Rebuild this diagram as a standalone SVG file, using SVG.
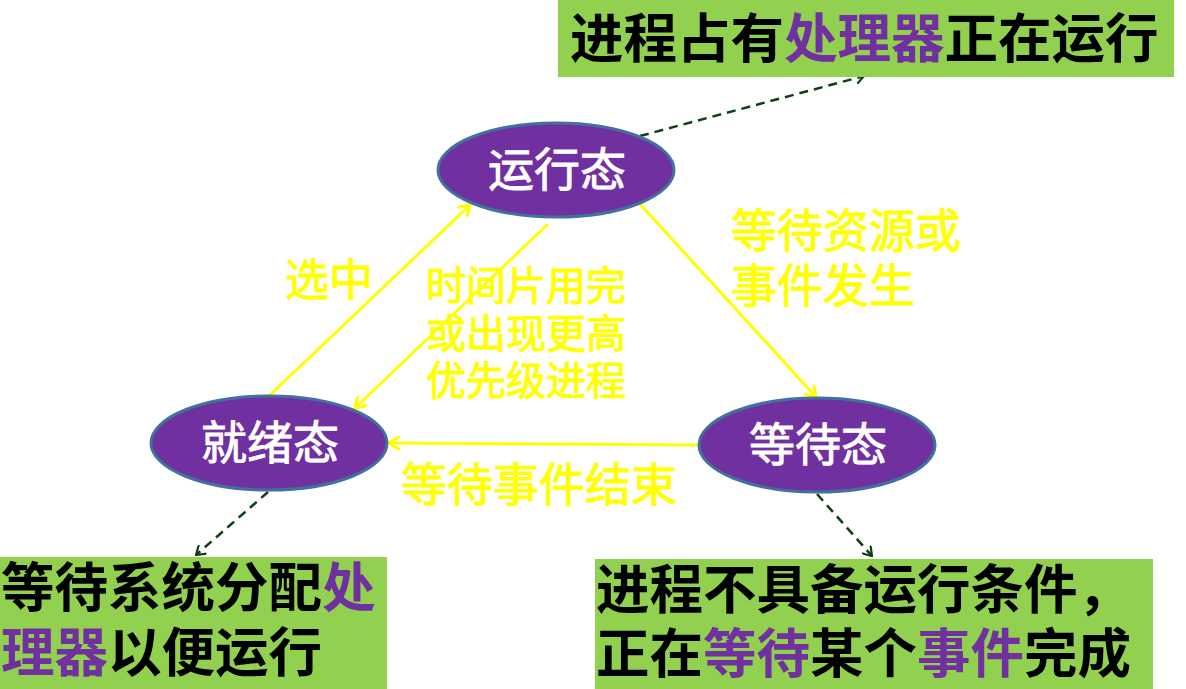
<svg xmlns="http://www.w3.org/2000/svg" width="1186" height="689" viewBox="0 0 1186 689">
<defs>
<style>
.box{fill:#92D050;}
.bt{font-family:"Noto Sans CJK SC","Noto Sans",sans-serif;font-size:53.5px;font-weight:bold;fill:#000;}
.hl{fill:#7030A0;}
.node{fill:#7030A0;stroke:#41719C;stroke-width:3;}
.nt{font-family:"Noto Sans CJK SC","Noto Sans",sans-serif;font-size:46px;fill:#fff;stroke:#fff;stroke-width:0.9;text-anchor:middle;}
.yl{font-family:"Noto Sans CJK SC","Noto Sans",sans-serif;fill:#FFFF00;stroke:#FFFF00;stroke-width:1;}
.ya{stroke:#FFFF00;stroke-width:3;fill:none;marker-end:url(#ya);}
.da{stroke:#0F3F14;stroke-width:2.5;fill:none;stroke-dasharray:9 6;marker-end:url(#da);}
</style>
<marker id="ya" viewBox="0 0 12 14" refX="11" refY="7" markerWidth="12" markerHeight="14" markerUnits="userSpaceOnUse" orient="auto">
<path d="M0,0 L11,7 L0,14" fill="none" stroke="#FFFF00" stroke-width="3"/>
</marker>
<marker id="da" viewBox="0 0 10 12" refX="9" refY="6" markerWidth="10" markerHeight="12" markerUnits="userSpaceOnUse" orient="auto">
<path d="M0,0 L9,6 L0,12" fill="none" stroke="#0F3F14" stroke-width="2.2"/>
</marker>
</defs>
<rect width="1186" height="689" fill="#fff"/>

<g id="connectors">
<line class="ya" x1="269" y1="396" x2="470" y2="205"/>
<line class="ya" x1="548" y1="224" x2="355" y2="408"/>
<line class="ya" x1="640" y1="204" x2="816" y2="397"/>
<line class="ya" x1="698" y1="445" x2="389" y2="443"/>
<line class="da" x1="640" y1="136" x2="864" y2="76"/>
<line class="da" x1="268" y1="492" x2="196" y2="555"/>
<line class="da" x1="817" y1="494" x2="872" y2="556"/>
</g>

<g id="labels">
<text class="yl" x="285" y="296" font-size="44">选中</text>
<text class="yl" font-size="40"><tspan x="426" y="300">时间片用完</tspan><tspan x="426" y="348">或出现更高</tspan><tspan x="426" y="395">优先级进程</tspan></text>
<text class="yl" font-size="46"><tspan x="731" y="247">等待资源或</tspan><tspan x="731" y="302">事件发生</tspan></text>
<text class="yl" x="401" y="501" font-size="46">等待事件结束</text>
</g>

<g id="running">
<ellipse class="node" cx="556" cy="170" rx="118" ry="47"/>
<text class="nt" x="557" y="186">运行态</text>
</g>
<g id="ready">
<ellipse class="node" cx="269" cy="443" rx="118" ry="47"/>
<text class="nt" x="270" y="459">就绪态</text>
</g>
<g id="waiting">
<ellipse class="node" cx="817" cy="445" rx="118" ry="47"/>
<text class="nt" x="818" y="461">等待态</text>
</g>

<g id="note-running">
<rect class="box" x="558" y="0" width="616" height="77"/>
<text class="bt" x="570" y="58">进程占有<tspan class="hl">处理器</tspan>正在运行</text>
</g>
<g id="note-ready">
<rect class="box" x="0" y="557" width="387" height="132"/>
<text class="bt"><tspan x="1" y="607">等待系统分配<tspan class="hl">处</tspan></tspan><tspan x="1" y="672"><tspan class="hl">理器</tspan>以便运行</tspan></text>
</g>
<g id="note-waiting">
<rect class="box" x="595" y="559" width="558" height="130"/>
<text class="bt"><tspan x="596" y="609">进程不具备运行条件，</tspan><tspan x="596" y="673">正在<tspan class="hl">等待</tspan>某个<tspan class="hl">事件</tspan>完成</tspan></text>
</g>
</svg>
